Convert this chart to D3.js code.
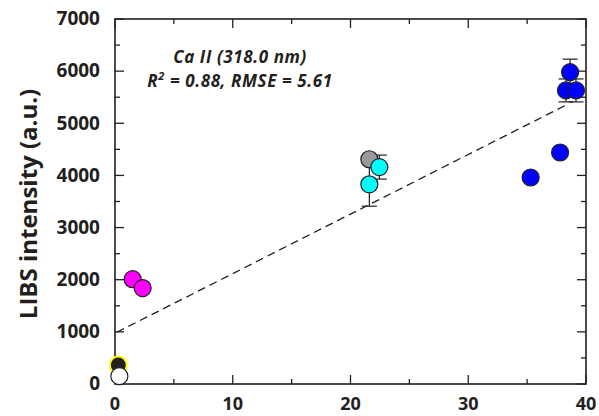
<!DOCTYPE html>
<html><head><meta charset="utf-8">
<script src="https://cdn.jsdelivr.net/npm/d3@7"></script>
<style>body{margin:0;background:#fff}svg{display:block}</style>
</head><body>
<svg id="c" width="599" height="416"></svg>
<script>
// Data
const xs      = [0.37, 0.28, 1.5, 2.35, 21.6, 22.45, 21.6, 35.3, 37.8, 38.3, 39.15, 38.65];
const ys      = [150, 365, 2010, 1840, 4310, 4160, 3830, 3960, 4440, 5630, 5630, 5980];
const yErr    = [0, 0, 0, 0, 0, 230, 420, 0, 0, 220, 220, 250];
const fills   = ["#ffffff", "#231f20", "#ff00ff", "#ff00ff", "#999999", "#00ffff", "#00ffff", "#0000ff", "#0000ff", "#0000ff", "#0000ff", "#0000ff"];
const strokes = ["#231f20", "#ffff00", "#231f20", "#231f20", "#231f20", "#231f20", "#231f20", "#231f20", "#231f20", "#231f20", "#231f20", "#231f20"];
const drawOrder = [1, 0, 2, 3, 4, 6, 5, 7, 8, 9, 10, 11];
const fitIntercept = 975, fitSlope = 114.2, fitX = [0.15, 38.4];
const xTicks = [0, 10, 20, 30, 40];
const yTicks = [0, 1000, 2000, 3000, 4000, 5000, 6000, 7000];
const yLabel = "LIBS intensity (a.u.)";
const annot = ["Ca II (318.0 nm)", "= 0.88, RMSE = 5.61"];

const svg = d3.select("#c");
const L = 115, R = 586, T = 19, B = 384;
const x = d3.scaleLinear().domain([0, 40]).range([L, R]);
const y = d3.scaleLinear().domain([0, 7000]).range([B, T]);
const ink = "#231f20";
const font = "'Open Sans', sans-serif";

// ticks (inside, mirrored)
const g = svg.append("g").attr("stroke", ink).attr("stroke-width", 1.3);
const xMinor = d3.range(0, 41, 5), yMinor = d3.range(0, 7001, 500);
xMinor.forEach(v => {
  const len = v % 10 === 0 ? 9 : 5;
  g.append("line").attr("x1", x(v)).attr("x2", x(v)).attr("y1", B).attr("y2", B - len);
  g.append("line").attr("x1", x(v)).attr("x2", x(v)).attr("y1", T).attr("y2", T + len);
});
yMinor.forEach(v => {
  const len = v % 1000 === 0 ? 9 : 5;
  g.append("line").attr("y1", y(v)).attr("y2", y(v)).attr("x1", L).attr("x2", L + len);
  g.append("line").attr("y1", y(v)).attr("y2", y(v)).attr("x1", R).attr("x2", R - len);
});
svg.append("rect").attr("x", L).attr("y", T).attr("width", R - L).attr("height", B - T)
  .attr("fill", "none").attr("stroke", ink).attr("stroke-width", 1.6);

// tick labels
svg.append("g").selectAll("text").data(xTicks).join("text")
  .attr("x", d => x(d)).attr("y", 410).attr("text-anchor", "middle")
  .attr("font-family", font).attr("font-weight", 700).attr("font-size", 18).attr("fill", ink)
  .text(d => d);
svg.append("g").selectAll("text").data(yTicks).join("text")
  .attr("x", 100).attr("y", d => y(d)).attr("dy", "0.33em").attr("text-anchor", "end")
  .attr("font-family", font).attr("font-weight", 700).attr("font-size", 19).attr("fill", ink)
  .text(d => d);

// y label
svg.append("text").attr("transform", "translate(37,204) rotate(-90)").attr("text-anchor", "middle")
  .attr("font-family", font).attr("font-weight", 700).attr("font-size", 24).attr("fill", ink)
  .text(yLabel);

// fit line
svg.append("line")
  .attr("x1", x(fitX[0])).attr("y1", y(fitIntercept + fitSlope * fitX[0]))
  .attr("x2", x(fitX[1])).attr("y2", y(fitIntercept + fitSlope * fitX[1]))
  .attr("stroke", ink).attr("stroke-width", 1.3).attr("stroke-dasharray", "8,5");

// error bars
const eb = svg.append("g").attr("stroke", ink).attr("stroke-width", 1.2);
xs.forEach((xv, i) => {
  if (!yErr[i]) return;
  const cx = x(xv);
  eb.append("line").attr("x1", cx).attr("x2", cx).attr("y1", y(ys[i] - yErr[i])).attr("y2", y(ys[i] + yErr[i]));
  [ys[i] - yErr[i], ys[i] + yErr[i]].forEach(v =>
    eb.append("line").attr("x1", cx - 7.5).attr("x2", cx + 7.5).attr("y1", y(v)).attr("y2", y(v)));
});

// points
svg.append("g").selectAll("circle").data(drawOrder).join("circle")
  .attr("cx", i => x(xs[i])).attr("cy", i => y(ys[i])).attr("r", 8.5)
  .attr("fill", i => fills[i]).attr("stroke", i => strokes[i]).attr("stroke-width", i => strokes[i] === "#ffff00" ? 2 : 1.2);

// annotation
const an = svg.append("g").attr("font-family", font).attr("font-weight", 700).attr("font-style", "italic")
  .attr("font-size", 17).attr("letter-spacing", 0.6).attr("fill", ink).attr("text-anchor", "middle");
an.append("text").attr("x", 240).attr("y", 63).text(annot[0]);
const t2 = an.append("text").attr("x", 240).attr("y", 87);
t2.append("tspan").text("R");
t2.append("tspan").attr("font-size", 11).attr("dy", -7).text("2");
t2.append("tspan").attr("dy", 7).text(" " + annot[1]);
</script>
</body></html>
